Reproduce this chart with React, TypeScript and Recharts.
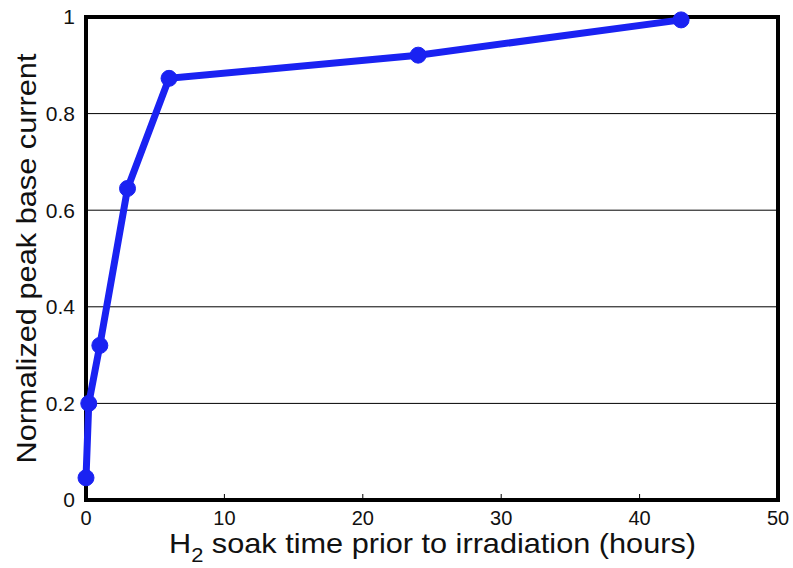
import { LineChart, Line, XAxis, YAxis, CartesianGrid, ReferenceArea, Label } from 'recharts';

const soakHours = [0, 0.2, 1, 3, 6, 24, 43];
const peakCurrent = [0.046, 0.2, 0.32, 0.645, 0.873, 0.921, 0.994];
const xTicks = [0, 10, 20, 30, 40, 50];
const yTicks = [0, 0.2, 0.4, 0.6, 0.8, 1];

const data = soakHours.map((h, i) => ({ h, v: peakCurrent[i] }));

const FONT = '"Liberation Sans", Arial, Helvetica, sans-serif';

// x ticks: short inward tick + label under the axis
const XTick = (props: any) => {
  const { x, y, payload } = props;
  return (
    <g>
      {payload.value !== 0 && payload.value !== 50 && (
        <line x1={x} x2={x} y1={y - 6} y2={y - 14} stroke="#000" strokeWidth={1} />
      )}
      <text x={x} y={y} dy={17} textAnchor="middle" fontSize={20} fontFamily={FONT} fill="#111">
        {payload.value}
      </text>
    </g>
  );
};

const XTitle = (props: any) => {
  const vb = props.viewBox;
  const cx = vb.x + vb.width / 2;
  return (
    <text
      x={cx - 263}
      y={vb.y + 53}
      textAnchor="start"
      fontSize={28}
      fontFamily={FONT}
      fill="#111"
      textLength={527}
      lengthAdjust="spacingAndGlyphs"
    >
      H<tspan fontSize={20} dy={9}>2</tspan>
      <tspan dy={-9}> soak time prior to irradiation (hours)</tspan>
    </text>
  );
};

const YTitle = (props: any) => {
  const vb = props.viewBox;
  const cy = vb.y + vb.height / 2;
  return (
    <text
      x={36}
      y={cy}
      transform={`rotate(-90 36 ${cy})`}
      textAnchor="middle"
      fontSize={28}
      fontFamily={FONT}
      fill="#111"
      textLength={410}
      lengthAdjust="spacingAndGlyphs"
    >
      Normalized peak base current
    </text>
  );
};

export default function App() {
  return (
    <div style={{ position: 'absolute', left: 0, top: 0, width: 793, height: 568, background: '#fff' }}>
      <LineChart width={793} height={568} data={data} margin={{ top: 17, right: 15, bottom: 0, left: 0 }}>
        <CartesianGrid vertical={false} stroke="#000" strokeWidth={1} />
        <XAxis
          dataKey="h"
          type="number"
          domain={[0, 50]}
          ticks={xTicks}
          height={68}
          axisLine={false}
          tickLine={false}
          tick={<XTick />}
          interval={0}
        >
          <Label content={<XTitle />} />
        </XAxis>
        <YAxis
          type="number"
          domain={[0, 1]}
          ticks={yTicks}
          width={86}
          axisLine={false}
          tickLine={false}
          tickMargin={5}
          tick={{ fontSize: 21, fontFamily: FONT, fill: '#111' }}
          tickFormatter={(v: number) => String(v)}
        >
          <Label content={<YTitle />} />
        </YAxis>
        <ReferenceArea x1={0} x2={50} y1={0} y2={1} fill="none" stroke="#000" strokeWidth={4} />
        <Line
          dataKey="v"
          stroke="#1a22f2"
          strokeWidth={7}
          dot={{ r: 8, fill: '#1a22f2', stroke: '#1a22f2', strokeWidth: 1 }}
          isAnimationActive={false}
        />
      </LineChart>
    </div>
  );
}
